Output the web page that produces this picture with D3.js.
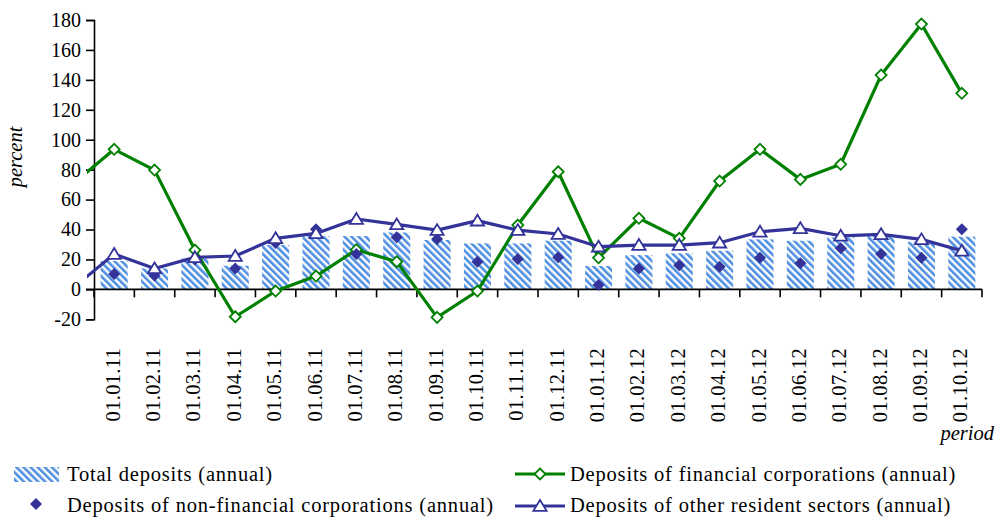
<!DOCTYPE html>
<html>
<head>
<meta charset="utf-8">
<script src="https://cdn.jsdelivr.net/npm/d3@7/dist/d3.min.js"></script>
<style>
  html, body { margin: 0; padding: 0; background: #fff; }
  svg { display: block; font-family: "Liberation Serif", "Times New Roman", serif; }
</style>
</head>
<body>
<svg id="chart" width="998" height="517"></svg>
<script>
// ---- data ----
const categories = ["01.01.11","01.02.11","01.03.11","01.04.11","01.05.11","01.06.11","01.07.11","01.08.11","01.09.11","01.10.11","01.11.11","01.12.11",
                    "01.01.12","01.02.12","01.03.12","01.04.12","01.05.12","01.06.12","01.07.12","01.08.12","01.09.12","01.10.12"];
const totalDeposits   = [19, 14, 20.5, 15.8, 29.6, 35.6, 35.6, 38, 33, 30.7, 30.7, 32.5, 15.6, 22.9, 24.1, 25.8, 33.4, 32.5, 34.8, 35.6, 31.8, 35.2];
const financialCorp   = [93.6, 79.7, 26.3, -18.3, -1.1, 8.9, 26.5, 18.5, -18.7, -1.1, 43, 78.6, 21.1, 47.5, 34.1, 72.4, 93.6, 73.5, 83.6, 143.2, 177.3, 131];
const nonFinancialCorp= [10.2, 9.3, 20, 14, 31, 40.1, 23.6, 34.8, 33.6, 18.5, 20.3, 21.4, 2.9, 14, 16.2, 15.1, 21.1, 17.4, 27.4, 23.6, 21.1, 40.1];
const otherResident   = [23.6, 14, 21.4, 22.3, 34.1, 37.4, 47, 43.4, 39.6, 45.9, 39.6, 37, 28.5, 29.6, 29.6, 31.2, 38.5, 40.8, 35.8, 36.8, 33.4, 25.8];
// value of the period before the first shown one (line enters from the left edge)
const financialPrev = 71;
const otherPrev = 1.3;
const yTicks = [-20, 0, 20, 40, 60, 80, 100, 120, 140, 160, 180];
const seriesNames = ["Total deposits (annual)", "Deposits of financial corporations (annual)",
                     "Deposits of non-financial corporations (annual)", "Deposits of other resident sectors (annual)"];

// ---- layout ----
const svg = d3.select("#chart");
const plotL = 94, plotR = 982, plotT = 20, plotB = 319.3;
const green = "#008000", navy = "#333399", barBlue = "#4f8fe0";

const x = d3.scaleBand().domain(categories).range([plotL, plotR]).paddingInner(0.33).paddingOuter(0.165);
const y = d3.scaleLinear().domain([-20, 180]).range([plotB, plotT]);
const cx = d => x(d) + x.bandwidth() / 2;

const defs = svg.append("defs");
const pat = defs.append("pattern").attr("id", "stripes").attr("patternUnits", "userSpaceOnUse")
  .attr("width", 5).attr("height", 5).attr("patternTransform", "rotate(-45)");
pat.append("rect").attr("width", 5).attr("height", 5).attr("fill", "#fff");
pat.append("rect").attr("width", 2.6).attr("height", 5).attr("fill", barBlue);
defs.append("clipPath").attr("id", "plotclip").append("rect")
  .attr("x", 87).attr("y", 0).attr("width", 998 - 87).attr("height", 517);

// bars
svg.append("g").selectAll("rect").data(categories).join("rect")
  .attr("x", d => x(d)).attr("width", x.bandwidth())
  .attr("y", (d, i) => y(Math.max(0, totalDeposits[i])))
  .attr("height", (d, i) => Math.abs(y(totalDeposits[i]) - y(0)))
  .attr("fill", "url(#stripes)");

// axes
const yAxis = d3.axisLeft(y).tickValues(yTicks).tickSize(8).tickPadding(5).tickFormat(d => String(d));
const gy = svg.append("g").attr("transform", `translate(${plotL},0)`).call(yAxis);
gy.select(".domain").attr("stroke", "#000").attr("stroke-width", 1.6);
gy.selectAll(".tick line").attr("stroke", "#000").attr("stroke-width", 1.6);
gy.selectAll(".tick text").attr("font-size", 20).attr("fill", "#000")
  .attr("font-family", "Liberation Serif, Times New Roman, serif");

// x axis line at zero, ticks at category boundaries
const gx = svg.append("g");
gx.append("line").attr("x1", 86).attr("x2", plotR).attr("y1", y(0)).attr("y2", y(0))
  .attr("stroke", "#000").attr("stroke-width", 1.6);
const bounds = categories.map(d => cx(d) - x.step() / 2).concat([cx(categories[categories.length - 1]) + x.step() / 2]);
gx.selectAll("line.tk").data(bounds).join("line").attr("class", "tk")
  .attr("x1", d => d).attr("x2", d => d).attr("y1", y(0)).attr("y2", y(0) + 8)
  .attr("stroke", "#000").attr("stroke-width", 1.6);
gx.selectAll("text").data(categories).join("text")
  .attr("transform", d => `translate(${cx(d) + 5.5},348) rotate(-90)`)
  .attr("text-anchor", "end").attr("font-size", 20.5).attr("letter-spacing", 0.3).attr("fill", "#000").text(d => d);

// lines
const prevX = cx(categories[0]) - x.step();
const line = d3.line().x(d => d[0]).y(d => y(d[1]));
const finPts = [[prevX, financialPrev]].concat(categories.map((d, i) => [cx(d), financialCorp[i]]));
const othPts = [[prevX, otherPrev]].concat(categories.map((d, i) => [cx(d), otherResident[i]]));
const diamond = s => `M0,${-s}L${s},0L0,${s}L${-s},0Z`;
const tri = s => `M0,${-s}L${s * 1.1},${s * 0.8}L${-s * 1.1},${s * 0.8}Z`;

const gl = svg.append("g").attr("clip-path", "url(#plotclip)");
gl.append("path").attr("d", line(finPts)).attr("fill", "none").attr("stroke", green).attr("stroke-width", 3.2).attr("stroke-linejoin", "round");
gl.selectAll("path.fm").data(categories).join("path").attr("class", "fm")
  .attr("transform", (d, i) => `translate(${cx(d)},${y(financialCorp[i])})`)
  .attr("d", diamond(5.5)).attr("fill", "#fff").attr("stroke", green).attr("stroke-width", 1.8);

gl.selectAll("path.nf").data(categories).join("path").attr("class", "nf")
  .attr("transform", (d, i) => `translate(${cx(d)},${y(nonFinancialCorp[i])})`)
  .attr("d", diamond(6)).attr("fill", navy);

gl.append("path").attr("d", line(othPts)).attr("fill", "none").attr("stroke", navy).attr("stroke-width", 3.2).attr("stroke-linejoin", "round");
gl.selectAll("path.om").data(categories).join("path").attr("class", "om")
  .attr("transform", (d, i) => `translate(${cx(d)},${y(otherResident[i])})`)
  .attr("d", tri(6)).attr("fill", "#fff").attr("stroke", navy).attr("stroke-width", 1.8);

// axis titles
svg.append("text").attr("transform", "translate(22,157) rotate(-90)").attr("text-anchor", "middle")
  .attr("font-size", 20.5).attr("font-style", "italic").text("percent");
svg.append("text").attr("x", 994).attr("y", 440).attr("text-anchor", "end")
  .attr("font-size", 20.5).attr("font-style", "italic").text("period");

// legend
const lg = svg.append("g").attr("font-size", 20.5).attr("letter-spacing", 0.8).attr("fill", "#000");
lg.append("rect").attr("x", 14).attr("y", 467).attr("width", 45).attr("height", 15).attr("fill", "url(#stripes)");
lg.append("text").attr("x", 67).attr("y", 481).text(seriesNames[0]);
lg.append("path").attr("transform", "translate(36,504)").attr("d", diamond(6)).attr("fill", navy);
lg.append("text").attr("x", 67).attr("y", 512).text(seriesNames[2]);

lg.append("line").attr("x1", 515).attr("x2", 565).attr("y1", 474).attr("y2", 474).attr("stroke", green).attr("stroke-width", 3.2);
lg.append("path").attr("transform", "translate(540,474)").attr("d", diamond(5.5)).attr("fill", "#fff").attr("stroke", green).attr("stroke-width", 1.8);
lg.append("text").attr("x", 570).attr("y", 481).text(seriesNames[1]);
lg.append("line").attr("x1", 515).attr("x2", 565).attr("y1", 506).attr("y2", 506).attr("stroke", navy).attr("stroke-width", 3.2);
lg.append("path").attr("transform", "translate(540,506)").attr("d", tri(6)).attr("fill", "#fff").attr("stroke", navy).attr("stroke-width", 1.8);
lg.append("text").attr("x", 570).attr("y", 512).text(seriesNames[3]);
</script>
</body>
</html>
